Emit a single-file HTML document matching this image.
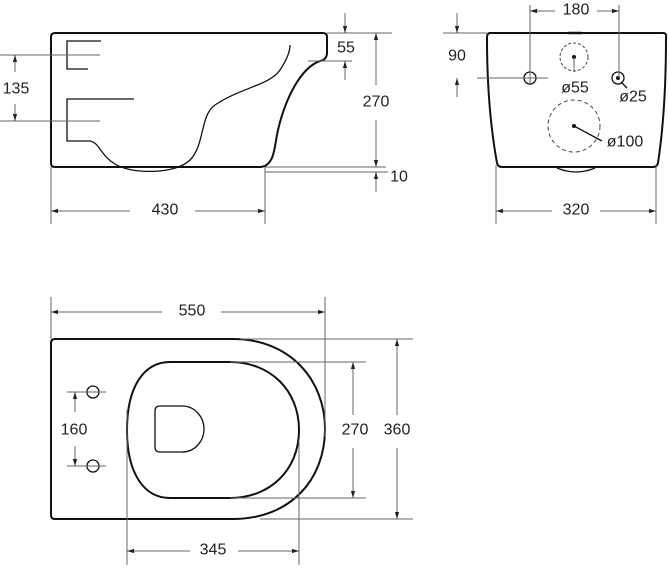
<!DOCTYPE html>
<html><head><meta charset="utf-8"><style>
html,body{margin:0;padding:0;background:#fff}
svg{display:block}
text{font-family:"Liberation Sans",sans-serif;font-size:16px;fill:#222;text-anchor:middle;dominant-baseline:central}
.d{stroke:#666;stroke-width:1;fill:none}
.s{stroke:#111;stroke-width:2;fill:none}
.t{stroke:#111;stroke-width:1.3;fill:none}
</style></head><body>
<svg width="669" height="568" viewBox="0 0 669 568" xmlns="http://www.w3.org/2000/svg">
<defs>
<marker id="a" viewBox="0 0 10 10" refX="10" refY="5" markerWidth="7" markerHeight="7" orient="auto-start-reverse"><path d="M0,2 L10,5 L0,8 z" fill="#222"/></marker>
</defs>
<!-- SIDE VIEW -->
<path class="s" d="M55,33 L323,33 Q327,33 327,37 L327,54 Q326,60 320,61 C300,68 285,100 278,130 C274,148 275,160 265,166 L261,167 L55,167 Q51,167 51,163 L51,37 Q51,33 55,33 Z"/>
<path class="t" d="M101,41 L67,41 L67,69 L88,69"/>
<path class="t" d="M134,99 L67,99 L67,141 L90,141 C100,143 100,155 115,164 C130,174 175,175 190,160 C205,145 200,115 215,105 C240,88 270,85 280,70 C288,58 290,50 290,45"/>
<line class="d" x1="0" y1="55" x2="100" y2="55"/><line class="d" x1="0" y1="121" x2="100" y2="121"/>
<line class="d" x1="15" y1="72" x2="15" y2="55" marker-end="url(#a)"/><line class="d" x1="15" y1="104" x2="15" y2="121" marker-end="url(#a)"/>
<text x="16" y="89">135</text>
<line class="d" x1="327" y1="33" x2="392" y2="33"/><line class="d" x1="308" y1="61" x2="352" y2="61"/>
<line class="d" x1="345" y1="13" x2="345" y2="33" marker-end="url(#a)"/><line class="d" x1="345" y1="80" x2="345" y2="61" marker-end="url(#a)"/>
<text x="346" y="48">55</text>
<line class="d" x1="376" y1="85" x2="376" y2="33" marker-end="url(#a)"/><line class="d" x1="376" y1="120" x2="376" y2="167" marker-end="url(#a)"/>
<text x="376" y="102">270</text>
<line class="d" x1="265" y1="167" x2="386" y2="167"/><line class="d" x1="265" y1="172" x2="388" y2="172"/>
<line class="d" x1="376" y1="192" x2="376" y2="172" marker-end="url(#a)"/>
<text x="399" y="177">10</text>
<line class="d" x1="51" y1="167" x2="51" y2="224"/><line class="d" x1="265" y1="167" x2="265" y2="224"/>
<line class="d" x1="130" y1="211" x2="51" y2="211" marker-end="url(#a)"/><line class="d" x1="195" y1="211" x2="265" y2="211" marker-end="url(#a)"/>
<text x="165" y="210">430</text>
<!-- REAR VIEW -->
<path class="s" d="M490,33 L663,33 Q667,33 666,38 C666,90 663,130 658,163 Q657,167 653,167 L502,167 Q498,167 497,163 C491,130 487,90 487,38 Q487,33 490,33 Z"/>
<path class="t" d="M557,168 Q576,176 595,168"/>
<line x1="568" y1="33" x2="582" y2="33" stroke="#111" stroke-width="2.5"/>
<circle class="t" cx="530" cy="78" r="6"/>
<line class="d" x1="477" y1="78" x2="548" y2="78"/><line class="d" x1="530" y1="5" x2="530" y2="85"/>
<line class="d" x1="443" y1="33" x2="487" y2="33"/>
<line class="d" x1="457" y1="13" x2="457" y2="33" marker-end="url(#a)"/><line class="d" x1="457" y1="97" x2="457" y2="78" marker-end="url(#a)"/>
<text x="457" y="56">90</text>
<circle cx="574" cy="57" r="14" fill="none" stroke="#444" stroke-width="1" stroke-dasharray="3,2"/>
<circle cx="574" cy="57" r="2" fill="#111"/><line class="d" x1="574" y1="57" x2="574" y2="72"/>
<text x="575" y="88">ø55</text>
<circle class="t" cx="618" cy="78" r="6"/><circle cx="618" cy="78" r="2" fill="#111"/>
<line class="t" x1="621" y1="82" x2="627" y2="88"/>
<text x="633" y="97">ø25</text>
<line class="d" x1="619" y1="5" x2="619" y2="78"/>
<line class="d" x1="555" y1="11" x2="530" y2="11" marker-end="url(#a)"/><line class="d" x1="597" y1="11" x2="619" y2="11" marker-end="url(#a)"/>
<text x="576" y="10">180</text>
<circle cx="574" cy="126" r="26" fill="none" stroke="#444" stroke-width="1" stroke-dasharray="4,3"/>
<circle cx="574" cy="126" r="2" fill="#111"/><line class="t" x1="574" y1="126" x2="602" y2="141"/>
<text x="625" y="142">ø100</text>
<line class="d" x1="496" y1="165" x2="496" y2="224"/><line class="d" x1="656" y1="165" x2="656" y2="224"/>
<line class="d" x1="552" y1="211" x2="496" y2="211" marker-end="url(#a)"/><line class="d" x1="600" y1="211" x2="656" y2="211" marker-end="url(#a)"/>
<text x="576" y="210">320</text>
<!-- TOP VIEW -->
<path class="s" d="M55,339 L233,339 C290,339 325,380 325,429 C325,480 290,519 233,519 L55,519 Q51,519 51,515 L51,343 Q51,339 55,339 Z"/>
<path class="s" d="M170,362 L230,362 C270,362 299,390 299,430 C299,470 270,498 230,498 L170,498 C145,498 127,475 127,430 C127,385 145,362 170,362 Z"/>
<path class="t" d="M160,406 L182,406 C195,406 204,417 204,429 C204,441 195,452 182,452 L160,452 Q155,452 155,447 L155,411 Q155,406 160,406 Z"/>
<circle class="t" cx="93" cy="392" r="6"/><circle class="t" cx="93" cy="466" r="6"/>
<line class="d" x1="67" y1="392" x2="106" y2="392"/><line class="d" x1="67" y1="466" x2="106" y2="466"/>
<line class="d" x1="75" y1="412" x2="75" y2="392" marker-end="url(#a)"/><line class="d" x1="75" y1="446" x2="75" y2="466" marker-end="url(#a)"/>
<text x="74" y="430">160</text>
<line class="d" x1="51" y1="297" x2="51" y2="339"/><line class="d" x1="325" y1="297" x2="325" y2="437"/>
<line class="d" x1="162" y1="312" x2="51" y2="312" marker-end="url(#a)"/><line class="d" x1="221" y1="312" x2="325" y2="312" marker-end="url(#a)"/>
<text x="192" y="311">550</text>
<line class="d" x1="230" y1="362" x2="366" y2="362"/><line class="d" x1="230" y1="498" x2="366" y2="498"/>
<line class="d" x1="353" y1="415" x2="353" y2="362" marker-end="url(#a)"/><line class="d" x1="353" y1="448" x2="353" y2="498" marker-end="url(#a)"/>
<text x="355" y="430">270</text>
<line class="d" x1="240" y1="339" x2="413" y2="339"/><line class="d" x1="260" y1="519" x2="413" y2="519"/>
<line class="d" x1="397" y1="415" x2="397" y2="339" marker-end="url(#a)"/><line class="d" x1="397" y1="448" x2="397" y2="519" marker-end="url(#a)"/>
<text x="397" y="430">360</text>
<line class="d" x1="127" y1="410" x2="127" y2="565"/><line class="d" x1="299" y1="440" x2="299" y2="565"/>
<line class="d" x1="190" y1="551" x2="127" y2="551" marker-end="url(#a)"/><line class="d" x1="238" y1="551" x2="299" y2="551" marker-end="url(#a)"/>
<text x="213" y="550">345</text>
</svg>
</body></html>
